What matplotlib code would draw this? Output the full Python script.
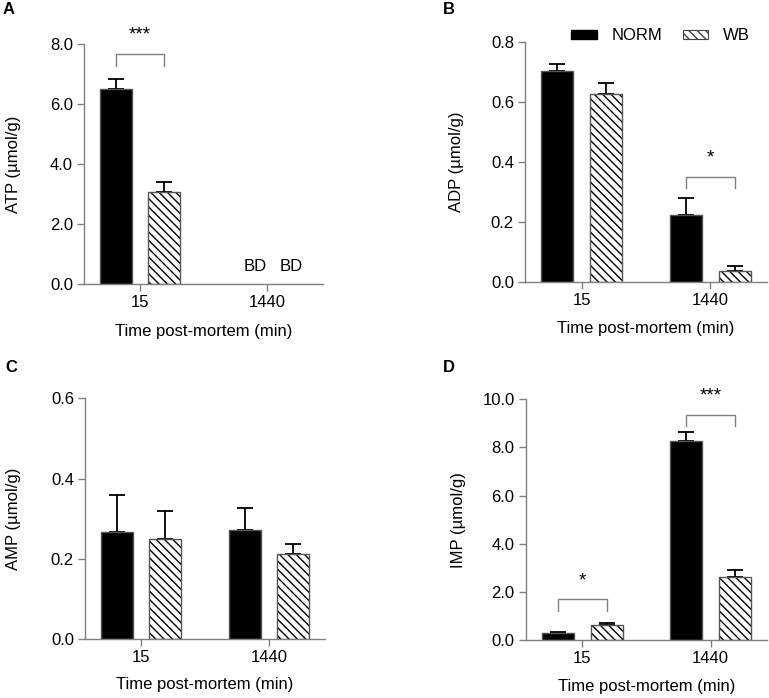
import matplotlib
matplotlib.use("Agg")
import matplotlib.pyplot as plt
from matplotlib.patches import Patch
import numpy as np

plt.rcParams['font.family'] = ['Liberation Sans', 'DejaVu Sans']
plt.rcParams['hatch.linewidth'] = 1.0

# ---------------- data ----------------
times = ["15", "1440"]
groups = ["NORM", "WB"]

atp_norm = [6.50, np.nan]
atp_norm_err = [0.33, 0]
atp_wb = [3.07, np.nan]
atp_wb_err = [0.32, 0]

adp_norm = [0.702, 0.224]
adp_norm_err = [0.023, 0.057]
adp_wb = [0.627, 0.039]
adp_wb_err = [0.037, 0.014]

amp_norm = [0.268, 0.273]
amp_norm_err = [0.091, 0.055]
amp_wb = [0.249, 0.213]
amp_wb_err = [0.070, 0.025]

imp_norm = [0.29, 8.27]
imp_norm_err = [0.06, 0.36]
imp_wb = [0.61, 2.60]
imp_wb_err = [0.08, 0.31]

panels = [
    dict(letter="A", ylabel="ATP (µmol/g)", norm=atp_norm, nerr=atp_norm_err,
         wb=atp_wb, werr=atp_wb_err, yticks=[0, 2, 4, 6, 8], fmt="{:.1f}",
         ylim=8.0, sig=[(0, "***", 7.66, 7.27, 8.30)], bd=True),
    dict(letter="B", ylabel="ADP (µmol/g)", norm=adp_norm, nerr=adp_norm_err,
         wb=adp_wb, werr=adp_wb_err, yticks=[0, 0.2, 0.4, 0.6, 0.8], fmt="{:.1f}",
         ylim=0.8, sig=[(1, "*", 0.350, 0.312, 0.415)], bd=False),
    dict(letter="C", ylabel="AMP (µmol/g)", norm=amp_norm, nerr=amp_norm_err,
         wb=amp_wb, werr=amp_wb_err, yticks=[0, 0.2, 0.4, 0.6], fmt="{:.1f}",
         ylim=0.6, sig=[], bd=False),
    dict(letter="D", ylabel="IMP (µmol/g)", norm=imp_norm, nerr=imp_norm_err,
         wb=imp_wb, werr=imp_wb_err, yticks=[0, 2, 4, 6, 8, 10], fmt="{:.1f}",
         ylim=10.0, sig=[(0, "*", 1.72, 1.22, 2.45), (1, "***", 9.34, 8.89, 10.15)], bd=False),
]

# ---------------- layout (pixel boxes) ----------------
W, H = 769, 698
boxes = [  # left, top, right, bottom in pixels
    (84, 44, 323, 284),
    (525, 41.7, 767, 282.3),
    (85, 398.3, 325, 639.3),
    (525.7, 399.3, 767, 640),
]
ylab_x = [14, 456, 14, 458]
xlab_y = [331.7, 328.3, 685, 687]
letter_pos = [(9, 9), (449, 9), (11, 368), (449, 368)]

fig = plt.figure(figsize=(W / 100, H / 100), dpi=100)

FS = 12
spine_c = "#808080"
edge_c = "#555555"
bw = 0.25
off = 0.19
x = np.arange(len(times))
HATCH = "\\\\\\\\"

for p, (l, t, r, b), yx, xy, lp in zip(panels, boxes, ylab_x, xlab_y, letter_pos):
    ax = fig.add_axes([l / W, 1 - b / H, (r - l) / W, (b - t) / H])
    norm = np.array(p["norm"], dtype=float)
    wb = np.array(p["wb"], dtype=float)
    nerr = np.array(p["nerr"], dtype=float)
    werr = np.array(p["werr"], dtype=float)
    okn = ~np.isnan(norm)
    okw = ~np.isnan(wb)

    ax.errorbar(x[okn] - off, norm[okn], yerr=[np.zeros(okn.sum()), nerr[okn]],
                fmt="none", ecolor="black", elinewidth=1.3, capsize=5.8,
                capthick=1.3, zorder=1)
    ax.errorbar(x[okw] + off, wb[okw], yerr=[np.zeros(okw.sum()), werr[okw]],
                fmt="none", ecolor="black", elinewidth=1.3, capsize=5.8,
                capthick=1.3, zorder=1)
    ax.bar(x[okn] - off, norm[okn], width=bw, color="black", edgecolor=edge_c,
           linewidth=1.0, zorder=2)
    ax.bar(x[okw] + off, wb[okw], width=bw, color="white", edgecolor="black",
           hatch=HATCH, linewidth=0, zorder=2)
    ax.bar(x[okw] + off, wb[okw], width=bw, fill=False, edgecolor=edge_c,
           linewidth=1.0, zorder=3)

    ax.set_xlim(-0.44, 1.44)
    ax.set_ylim(0, p["ylim"])
    ax.set_yticks(p["yticks"])
    ax.set_yticklabels([p["fmt"].format(v) for v in p["yticks"]])
    ax.set_xticks(x)
    ax.set_xticklabels(times)
    for s in ["top", "right"]:
        ax.spines[s].set_visible(False)
    for s in ["left", "bottom"]:
        ax.spines[s].set_color(spine_c)
        ax.spines[s].set_linewidth(1.0)
    ax.tick_params(axis="both", colors=spine_c, labelcolor="black",
                   labelsize=FS, length=5, width=1.0, pad=3)
    ax.set_ylabel(p["ylabel"], fontsize=FS, va="center")
    ax.yaxis.set_label_coords(yx / W, 1 - (t + b) / 2 / H, transform=fig.transFigure)
    ax.set_xlabel("Time post-mortem (min)", fontsize=FS, va="center")
    ax.xaxis.set_label_coords((l + r) / 2 / W, 1 - xy / H, transform=fig.transFigure)

    for gi, star, ytop, yleg, ytext in p["sig"]:
        x0, x1 = gi - off, gi + off
        ax.plot([x0, x0, x1, x1], [yleg, ytop, ytop, yleg], color=spine_c,
                lw=1.0, zorder=4)
        ax.text(gi, ytext, star, ha="center", va="center", fontsize=13.5)

    if p["bd"]:
        ax.text(1 - 0.09, p["ylim"] * 0.071, "BD", ha="center", va="center", fontsize=FS)
        ax.text(1 + off, p["ylim"] * 0.071, "BD", ha="center", va="center", fontsize=FS)

    fig.text(lp[0] / W, 1 - lp[1] / H, p["letter"], fontsize=FS, fontweight="bold",
             ha="center", va="center")

    if p["letter"] == "B":
        handles = [Patch(facecolor="black", edgecolor="black", label="NORM"),
                   Patch(facecolor="white", edgecolor="#444444", hatch=HATCH,
                         linewidth=0.8, label="WB")]
        fig.legend(handles=handles, loc="center left",
                   bbox_to_anchor=(571 / W, 1 - 36 / H), ncol=2, frameon=False,
                   fontsize=FS, handlelength=1.55, handleheight=0.5,
                   handletextpad=0.9, columnspacing=1.2, borderpad=0,
                   borderaxespad=0)

fig.savefig("out.png", dpi=100)
